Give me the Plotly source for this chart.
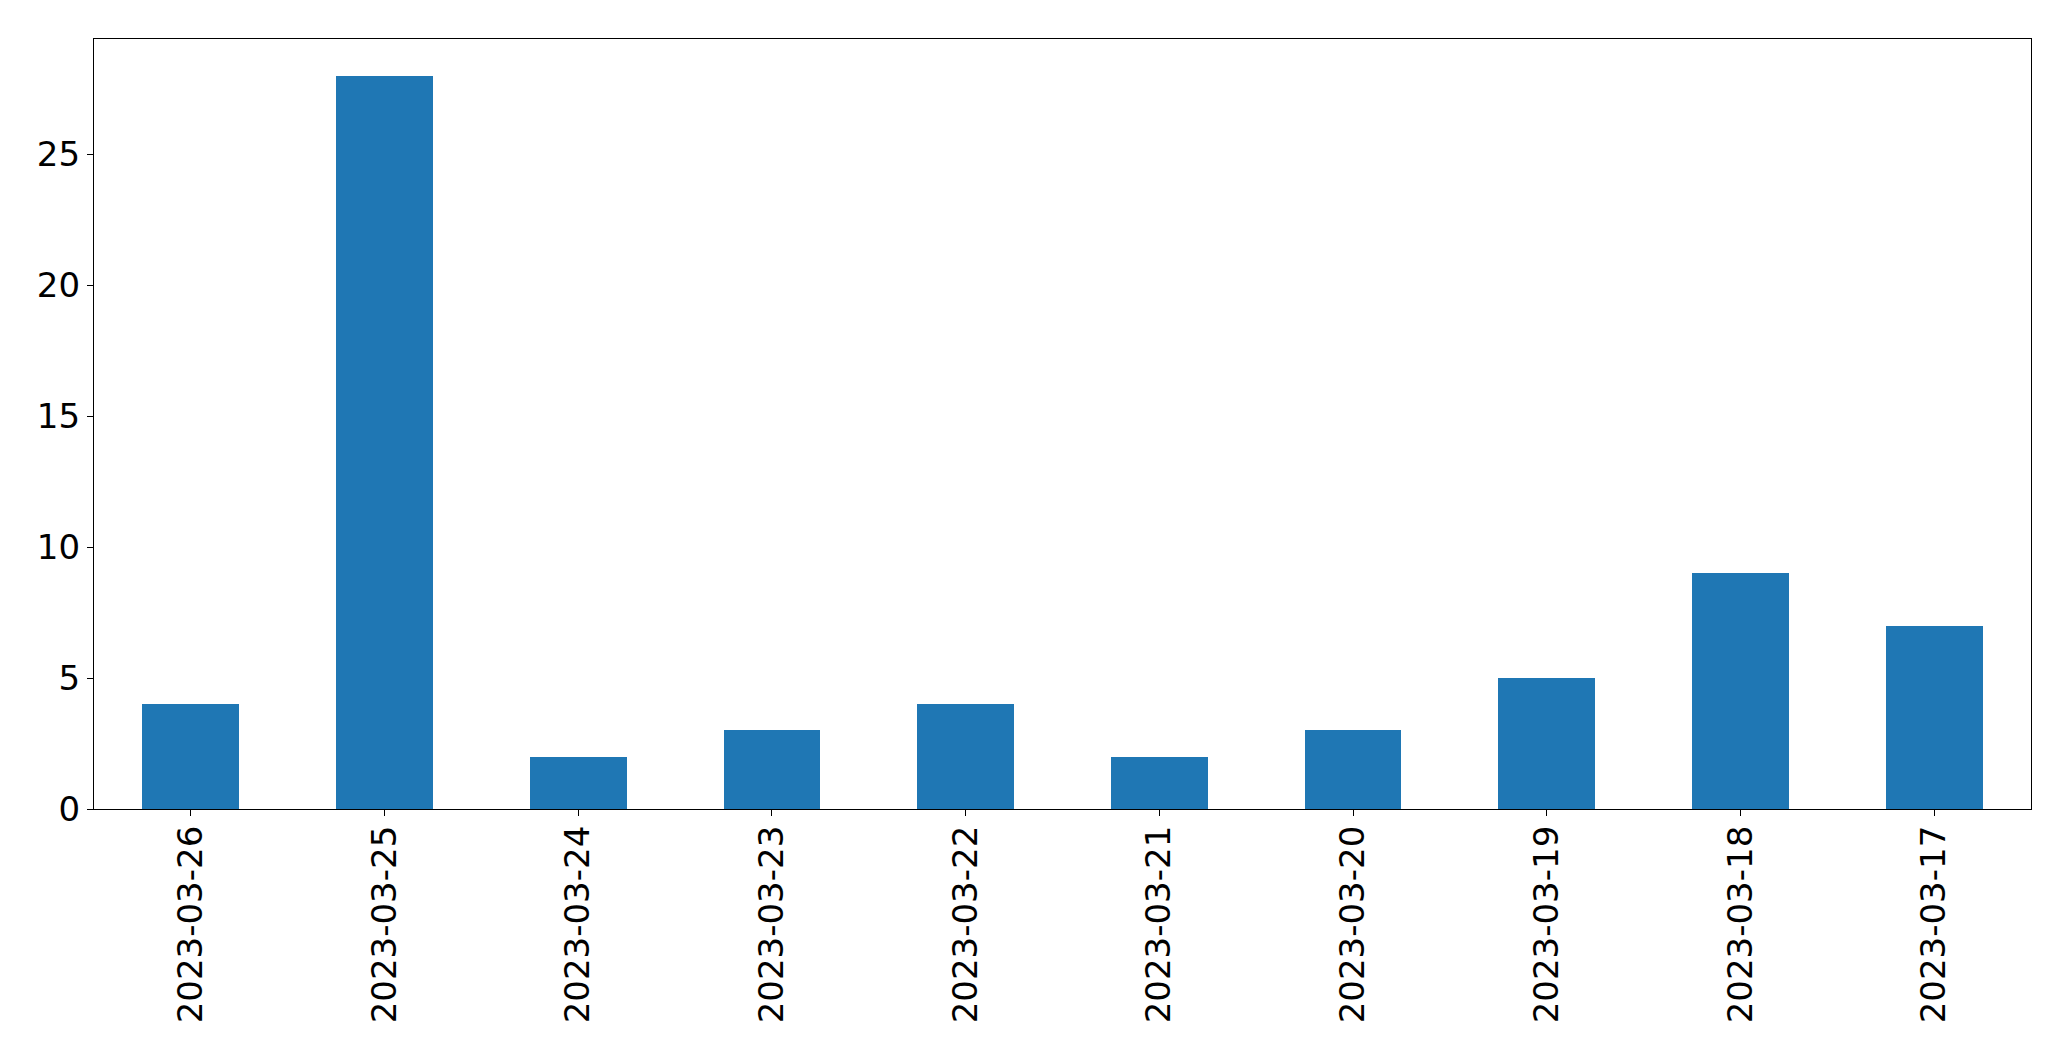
import plotly.graph_objects as go

dates = ["2023-03-26", "2023-03-25", "2023-03-24", "2023-03-23", "2023-03-22",
         "2023-03-21", "2023-03-20", "2023-03-19", "2023-03-18", "2023-03-17"]
counts = [4, 28, 2, 3, 4, 2, 3, 5, 9, 7]
y_ticks = [0, 5, 10, 15, 20, 25]

fig = go.Figure(go.Bar(
    x=list(range(len(dates))),
    y=counts,
    width=0.5,
    marker=dict(color="#1f77b4", line=dict(width=0)),
))

font_family = "DejaVu Sans"
# page body has an 8px default margin, so the figure is 8px smaller and margins shifted
fig.update_layout(
    width=2063, height=1053,
    margin=dict(l=86, r=40, t=31, b=252, autoexpand=False),
    paper_bgcolor="white", plot_bgcolor="white",
    showlegend=False,
    font=dict(family=font_family, size=34, color="black"),
    bargap=0,
)
fig.update_xaxes(
    range=[-0.5, len(dates) - 0.5],
    tickmode="array", tickvals=list(range(len(dates))), ticktext=dates,
    tickangle=-90,
    ticks="outside", ticklen=6, tickwidth=1.3, tickcolor="black",
    ticklabelstandoff=-4,
    showline=True, linecolor="black", linewidth=1.3, mirror=True,
    showgrid=False, zeroline=False,
    tickfont=dict(family=font_family, size=34, color="black"),
)
fig.update_yaxes(
    range=[0, 29.4],
    tickmode="array", tickvals=y_ticks, ticktext=[str(v) for v in y_ticks],
    ticks="outside", ticklen=6, tickwidth=1.3, tickcolor="black",
    showline=True, linecolor="black", linewidth=1.3, mirror=True,
    showgrid=False, zeroline=False,
    tickfont=dict(family=font_family, size=34, color="black"),
)

fig.write_html("out.html")
